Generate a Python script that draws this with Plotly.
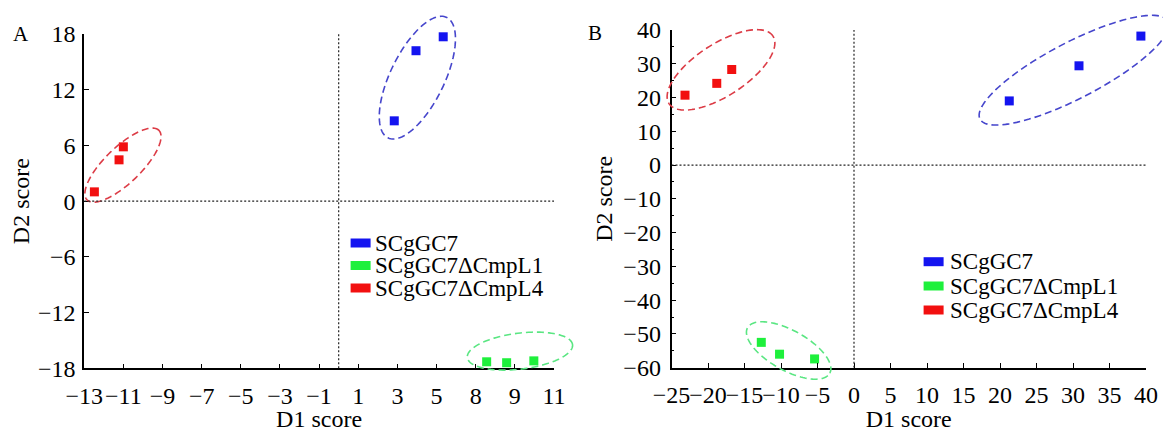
import math
import plotly.graph_objects as go

W, H = 1163, 432

# ---------------- data ----------------
groups = ["SCgGC7", "SCgGC7ΔCmpL1", "SCgGC7ΔCmpL4"]

# Panel A
a_sc7_x = [2.84, 3.95, 5.34]
a_sc7_y = [8.65, 16.2, 17.7]
a_l1_x = [7.56, 8.58, 9.97]
a_l1_y = [-17.3, -17.4, -17.2]
a_l4_x = [-12.48, -11.22, -11.0]
a_l4_y = [1.0, 4.45, 5.85]

# Panel B
b_sc7_x = [21.27, 30.82, 39.3]
b_sc7_y = [19.0, 29.4, 38.2]
b_l1_x = [-12.7, -10.2, -5.4]
b_l1_y = [-52.5, -56.0, -57.4]
b_l4_x = [-23.15, -18.8, -16.75]
b_l4_y = [20.7, 24.2, 28.3]

a_xticks = [-13, -11, -9, -7, -5, -3, -1, 1, 3, 5, 7, 9, 11]
a_xticktext = ["−13", "−11", "−9", "−7", "−5", "−3", "−1", "1", "3", "5", "8", "9", "11"]

# ---------------- styles ----------------
point_colors = ["#1414F0", "#1EF03C", "#F21010"]
ring_colors = ["#4646CC", "#5AE682", "#DC3C46"]
FONT = "Liberation Serif"
TICK_SIZE = 24
TITLE_SIZE = 24
LEG_SIZE = 23

# pixel frames of the two plot areas: (left, right, top, bottom)
frames = {
    "A": (84.2, 554.0, 34.0, 368.3),
    "B": (671.5, 1146.0, 30.0, 367.7),
}
ranges = {
    "A": ((-13, 11), (-18, 18)),
    "B": ((-25, 40), (-60, 40)),
}

# ellipse outlines: (panel, group index, centre x, centre y, semi-axis a px, b px, angle deg)
rings = [
    ("A", 0, 4.02, 13.3, 67, 27, 64),
    ("A", 1, 9.26, -16.15, 53, 18, 7),
    ("A", 2, -11.02, 3.88, 50, 18, 44),
    ("B", 0, 30.14, 28.1, 106, 28, 27.5),
    ("B", 1, -8.95, -54.9, 47, 20, -29),
    ("B", 2, -18.22, 28.2, 62, 26, 33),
]


def dom(p):
    l, r, t, b = frames[p]
    return [l / W, r / W], [1 - b / H, 1 - t / H]


def to_px(p, x, y):
    l, r, t, b = frames[p]
    (x0, x1), (y0, y1) = ranges[p]
    px = l + (x - x0) / (x1 - x0) * (r - l)
    py = b - (y - y0) / (y1 - y0) * (b - t)
    return px, py


fig = go.Figure()

series = {
    "A": [(a_sc7_x, a_sc7_y), (a_l1_x, a_l1_y), (a_l4_x, a_l4_y)],
    "B": [(b_sc7_x, b_sc7_y), (b_l1_x, b_l1_y), (b_l4_x, b_l4_y)],
}
axes = {"A": ("x", "y"), "B": ("x2", "y2")}

for p in ["A", "B"]:
    for i, (xs, ys) in enumerate(series[p]):
        fig.add_trace(go.Scatter(
            x=xs, y=ys, mode="markers", name=groups[i],
            xaxis=axes[p][0], yaxis=axes[p][1], showlegend=False,
            cliponaxis=False,
            marker=dict(symbol="square", size=9, color=point_colors[i],
                        line=dict(width=0)),
        ))

shapes = []
annotations = []

# ellipses
for p, gi, cx, cy, a, b, ang in rings:
    pcx, pcy = to_px(p, cx, cy)
    th = math.radians(ang)
    pts = []
    for k in range(121):
        t = 2 * math.pi * k / 120
        dx = a * math.cos(t) * math.cos(th) - b * math.sin(t) * math.sin(th)
        dy = a * math.cos(t) * math.sin(th) + b * math.sin(t) * math.cos(th)
        px, py = pcx + dx, pcy - dy
        pts.append((px / W, 1 - py / H))
    path = "M " + " L ".join(f"{u:.5f},{v:.5f}" for u, v in pts) + " Z"
    shapes.append(dict(type="path", xref="paper", yref="paper", path=path,
                       line=dict(color=ring_colors[gi], width=1.6, dash="7px,4px"),
                       layer="above"))

# dotted zero lines
for p in ["A", "B"]:
    xa, ya = axes[p]
    (x0, x1), (y0, y1) = ranges[p]
    shapes.append(dict(type="line", xref=xa, yref=ya, x0=x0, x1=x1, y0=0, y1=0,
                       line=dict(color="#222222", width=1.2, dash="2px,2px")))
    shapes.append(dict(type="line", xref=xa, yref=ya, x0=0, x1=0, y0=y0, y1=y1,
                       line=dict(color="#222222", width=1.2, dash="2px,2px")))

# legends (patch + text)
legend_pos = {"A": (350.6, 376.5, [243.0, 265.5, 288.0]),
              "B": (923.6, 951.6, [261.7, 286.0, 310.0])}
for p, (lx, tx, rows) in legend_pos.items():
    for i, ry in enumerate(rows):
        shapes.append(dict(type="rect", xref="paper", yref="paper",
                           x0=lx / W, x1=(lx + 20) / W,
                           y0=1 - (ry + 4.5) / H, y1=1 - (ry - 4.5) / H,
                           fillcolor=point_colors[i], line=dict(width=0)))
        annotations.append(dict(xref="paper", yref="paper", x=(tx - 3) / W, y=1 - ry / H,
                                text=groups[i], showarrow=False, xanchor="left",
                                yanchor="middle", borderpad=0,
                                font=dict(size=LEG_SIZE, family=FONT, color="black")))

# panel letters
annotations.append(dict(xref="paper", yref="paper", x=20.5 / W, y=1 - 34 / H, text="A",
                        xanchor="center", yanchor="middle", showarrow=False,
                        font=dict(size=21, family=FONT, color="black")))
annotations.append(dict(xref="paper", yref="paper", x=595 / W, y=1 - 33 / H, text="B",
                        xanchor="center", yanchor="middle", showarrow=False,
                        font=dict(size=21, family=FONT, color="black")))

axis_common = dict(showline=True, linecolor="black", linewidth=1.6, mirror=False,
                   ticks="inside", ticklen=5, tickwidth=1.4, tickcolor="black",
                   showgrid=False, zeroline=False, automargin=False, tickangle=0,
                   tickfont=dict(size=TICK_SIZE, family=FONT, color="black"),
                   title_font=dict(size=TITLE_SIZE, family=FONT, color="black"))

dxA, dyA = dom("A")
dxB, dyB = dom("B")

fig.update_layout(
    width=W, height=H,
    margin=dict(l=0, r=0, t=0, b=0, autoexpand=False),
    paper_bgcolor="white", plot_bgcolor="white",
    showlegend=False,
    font=dict(family=FONT, color="black"),
    shapes=shapes, annotations=annotations,
    xaxis=dict(axis_common, domain=dxA, range=list(ranges["A"][0]), anchor="y",
               tickmode="array", tickvals=a_xticks, ticktext=a_xticktext,
               ticklabelstandoff=5, title=dict(text="D1 score", standoff=16)),
    yaxis=dict(axis_common, domain=dyA, range=list(ranges["A"][1]), anchor="x",
               tickmode="linear", tick0=0, dtick=6, ticklabelstandoff=2,
               title=dict(text="D2 score", standoff=2)),
    xaxis2=dict(axis_common, domain=dxB, range=list(ranges["B"][0]), anchor="y2",
                tickmode="linear", tick0=0, dtick=5, ticklabelstandoff=5,
                title=dict(text="D1 score", standoff=16)),
    yaxis2=dict(axis_common, domain=dyB, range=list(ranges["B"][1]), anchor="x2",
                tickmode="linear", tick0=0, dtick=10, ticklabelstandoff=4,
                minor=dict(dtick=5, ticks="inside", ticklen=3, tickwidth=1.2, tickcolor="black"),
                title=dict(text="D2 score", standoff=4)),
)

fig.write_html("out.html", config={"displayModeBar": False},
               post_script="document.body.style.margin='0';")
